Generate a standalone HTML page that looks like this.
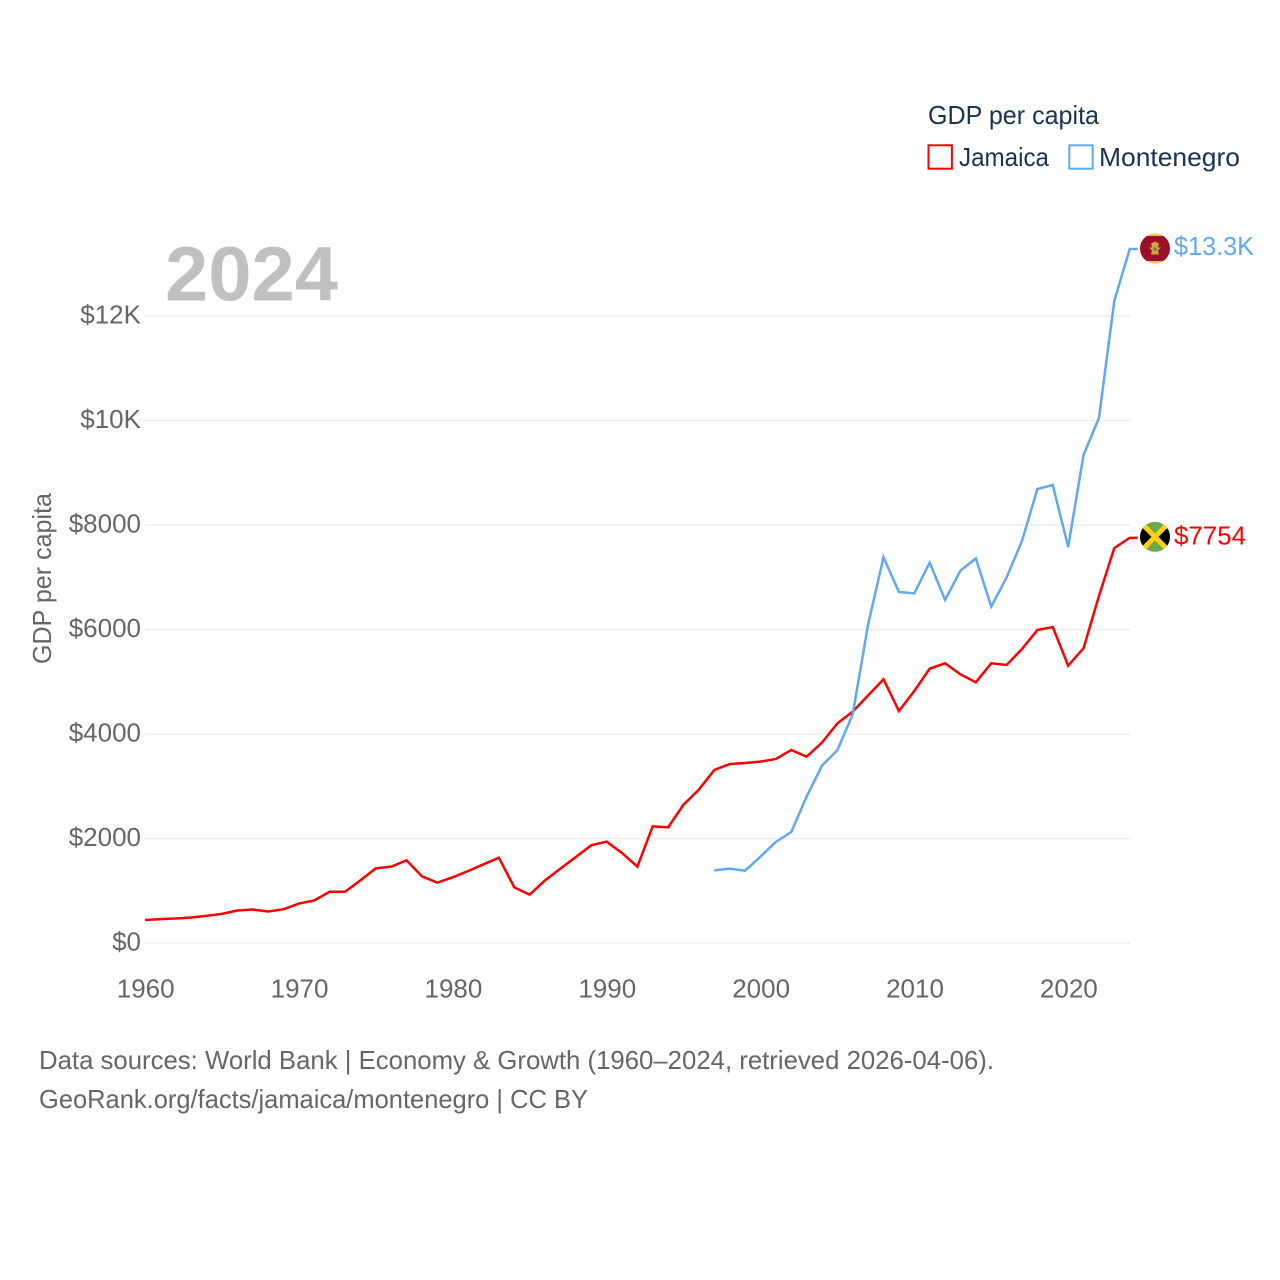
<!DOCTYPE html>
<html>
<head>
<meta charset="utf-8">
<title>GDP per capita: Jamaica and Montenegro</title>
<style>
html,body{margin:0;padding:0;background:#fff;width:1280px;height:1280px;overflow:hidden}
svg{display:block}
text{font-family:"Liberation Sans",sans-serif}
</style>
</head>
<body>
<svg id="chart" xmlns="http://www.w3.org/2000/svg" width="1280" height="1280" viewBox="0 0 1280 1280">
  <defs>
    <clipPath id="clip-me"><circle cx="0" cy="0" r="15"/></clipPath>
    <clipPath id="clip-jm"><circle cx="0" cy="0" r="15"/></clipPath>
  </defs>
  <g id="grid"></g>
  <g id="yticks"></g>
  <g id="xticks"></g>
  <text x="165" y="300.5" font-size="77" font-weight="700" fill="#c0c0c0" textLength="173" lengthAdjust="spacingAndGlyphs">2024</text>
  <text transform="translate(51,664) rotate(-90)" font-size="26" fill="#666" textLength="171" lengthAdjust="spacingAndGlyphs">GDP per capita</text>
  <g id="series"></g>

  <g id="flag-me">
    <g clip-path="url(#clip-me)">
      <rect x="-15" y="-15" width="30" height="30" fill="#f2c14e"/>
      <rect x="-15" y="-12.5" width="30" height="25" fill="#9c0f2a"/>
      <path d="M-4,-5 L0,-7 L4,-5 L3,-1 L6,-1 L3,2 L4,6 L-4,6 L-3,2 L-6,-1 L-3,-1 Z" fill="#d4a72c"/>
      <rect x="-1.5" y="-1" width="3" height="3" fill="#3f7fb5"/>
    </g>
  </g>
  <g id="flag-jm">
    <g clip-path="url(#clip-jm)">
      <rect x="-15" y="-15" width="30" height="30" fill="#6fa84a"/>
      <path d="M-15,-15 L0,0 L-15,15 Z M15,-15 L0,0 L15,15 Z" fill="#000"/>
      <path d="M-15,-15 L15,15 M15,-15 L-15,15" stroke="#fcd116" stroke-width="5" fill="none"/>
    </g>
  </g>
  <text id="label-me" x="1174" font-size="26" fill="#60a8f0" textLength="80" lengthAdjust="spacingAndGlyphs"></text>
  <text id="label-jm" x="1174" font-size="26" fill="#ff0000" textLength="72" lengthAdjust="spacingAndGlyphs"></text>

  <g>
    <text x="928" y="124" font-size="26" fill="#1a3353" textLength="171" lengthAdjust="spacingAndGlyphs">GDP per capita</text>
    <g>
      <rect x="928.5" y="145.3" width="23.4" height="23.4" fill="none" stroke="#ff0000" stroke-width="2"/>
      <text x="959" y="166" font-size="26" fill="#1a3353" textLength="90" lengthAdjust="spacingAndGlyphs">Jamaica</text>
    </g>
    <g>
      <rect x="1069.3" y="145.3" width="23.4" height="23.4" fill="none" stroke="#60a8f0" stroke-width="2"/>
      <text x="1099" y="166" font-size="26" fill="#1a3353" textLength="141" lengthAdjust="spacingAndGlyphs">Montenegro</text>
    </g>
  </g>

  <text x="39" y="1069" font-size="26" fill="#666" textLength="955" lengthAdjust="spacingAndGlyphs">Data sources: World Bank | Economy &amp; Growth (1960–2024, retrieved 2026-04-06).</text>
  <text x="39" y="1108" font-size="26" fill="#666" textLength="549" lengthAdjust="spacingAndGlyphs">GeoRank.org/facts/jamaica/montenegro | CC BY</text>
</svg>
<script>
const years = [1960,1961,1962,1963,1964,1965,1966,1967,1968,1969,
  1970,1971,1972,1973,1974,1975,1976,1977,1978,1979,
  1980,1981,1982,1983,1984,1985,1986,1987,1988,1989,
  1990,1991,1992,1993,1994,1995,1996,1997,1998,1999,
  2000,2001,2002,2003,2004,2005,2006,2007,2008,2009,
  2010,2011,2012,2013,2014,2015,2016,2017,2018,2019,
  2020,2021,2022,2023,2024];
const jamaica = [440,458,470,488,520,558,622,640,602,646,
  755,815,980,980,1199,1429,1461,1582,1276,1155,
  1257,1378,1506,1633,1065,925,1199,1423,1646,1869,
  1940,1723,1461,2233,2214,2648,2935,3311,3425,3445,
  3471,3522,3694,3566,3834,4204,4428,4740,5047,4440,
  4823,5251,5353,5142,4989,5353,5321,5627,5991,6048,
  5308,5640,6640,7560,7754];
const montenegro = [null,null,null,null,null,null,null,null,null,null,
  null,null,null,null,null,null,null,null,null,null,
  null,null,null,null,null,null,null,null,null,null,
  null,null,null,null,null,null,null,1391,1423,1384,
  1652,1933,2124,2801,3394,3688,4380,6100,7382,6718,
  6692,7280,6565,7126,7362,6437,6999,7694,8689,8765,
  7579,9340,10048,12287,13282];
const yTicks = [0,2000,4000,6000,8000,10000,12000];
const yTickLabels = ["$0","$2000","$4000","$6000","$8000","$10K","$12K"];
const xTicks = [1960,1970,1980,1990,2000,2010,2020];
const xTickLabels = ["1960","1970","1980","1990","2000","2010","2020"];
const endLabelMontenegro = "$13.3K";
const endLabelJamaica = "$7754";

const NS = "http://www.w3.org/2000/svg";
function xScale(year){ return 145 + (year - 1960) * (1129.7 - 145) / 64; }
function yScale(value){ return 943 - value * (943 - 316) / 12000; }

const grid = document.getElementById("grid");
const yTicksGroup = document.getElementById("yticks");
yTicks.forEach(function(v, i){
  const line = document.createElementNS(NS, "line");
  
  
  line.setAttribute("x1", 145);
  line.setAttribute("x2", 1130);
  line.setAttribute("y1", yScale(v));
  line.setAttribute("y2", yScale(v));
  line.setAttribute("stroke", "#eeeeee");
  line.setAttribute("stroke-width", "1.5");
  grid.appendChild(line);
  const t = document.createElementNS(NS, "text");
  
  
  t.setAttribute("x", 141);
  t.setAttribute("y", yScale(v) + 7.5);
  t.setAttribute("text-anchor", "end");
  t.setAttribute("font-size", "26");
  t.setAttribute("fill", "#666");
  t.textContent = yTickLabels[i];
  yTicksGroup.appendChild(t);
});

const xTicksGroup = document.getElementById("xticks");
xTicks.forEach(function(y, i){
  const t = document.createElementNS(NS, "text");
  
  
  t.setAttribute("x", xScale(y) + 0.7);
  t.setAttribute("y", 997.5);
  t.setAttribute("text-anchor", "middle");
  t.setAttribute("font-size", "26");
  t.setAttribute("fill", "#666");
  t.textContent = xTickLabels[i];
  xTicksGroup.appendChild(t);
});

const seriesGroup = document.getElementById("series");
function drawSeries(values, color, name){
  const pts = [];
  let last = null;
  values.forEach(function(v, i){
    if (v === null) return;
    last = v;
    pts.push(xScale(years[i]).toFixed(2) + "," + yScale(v).toFixed(2));
  });
  pts.push((xScale(years[years.length - 1]) + 8).toFixed(2) + "," + yScale(last).toFixed(2));
  const p = document.createElementNS(NS, "polyline");
  
  
  p.setAttribute("points", pts.join(" "));
  p.setAttribute("fill", "none");
  p.setAttribute("stroke", color);
  p.setAttribute("stroke-width", "2.5");
  p.setAttribute("stroke-linejoin", "miter");
  seriesGroup.appendChild(p);
}
drawSeries(jamaica, "#ff0000", "series-line-jamaica");
drawSeries(montenegro, "#60a8f0", "series-line-montenegro");

const lastJm = jamaica[jamaica.length - 1];
const lastMe = montenegro[montenegro.length - 1];
document.getElementById("flag-me").setAttribute("transform", "translate(1155," + (yScale(lastMe) - 0.5) + ")");
document.getElementById("flag-jm").setAttribute("transform", "translate(1155," + (yScale(lastJm) - 1) + ")");
const labelMe = document.getElementById("label-me");
labelMe.setAttribute("y", yScale(lastMe) + 6);
labelMe.textContent = endLabelMontenegro;
const labelJm = document.getElementById("label-jm");
labelJm.setAttribute("y", yScale(lastJm) + 6.5);
labelJm.textContent = endLabelJamaica;
</script>
</body>
</html>
